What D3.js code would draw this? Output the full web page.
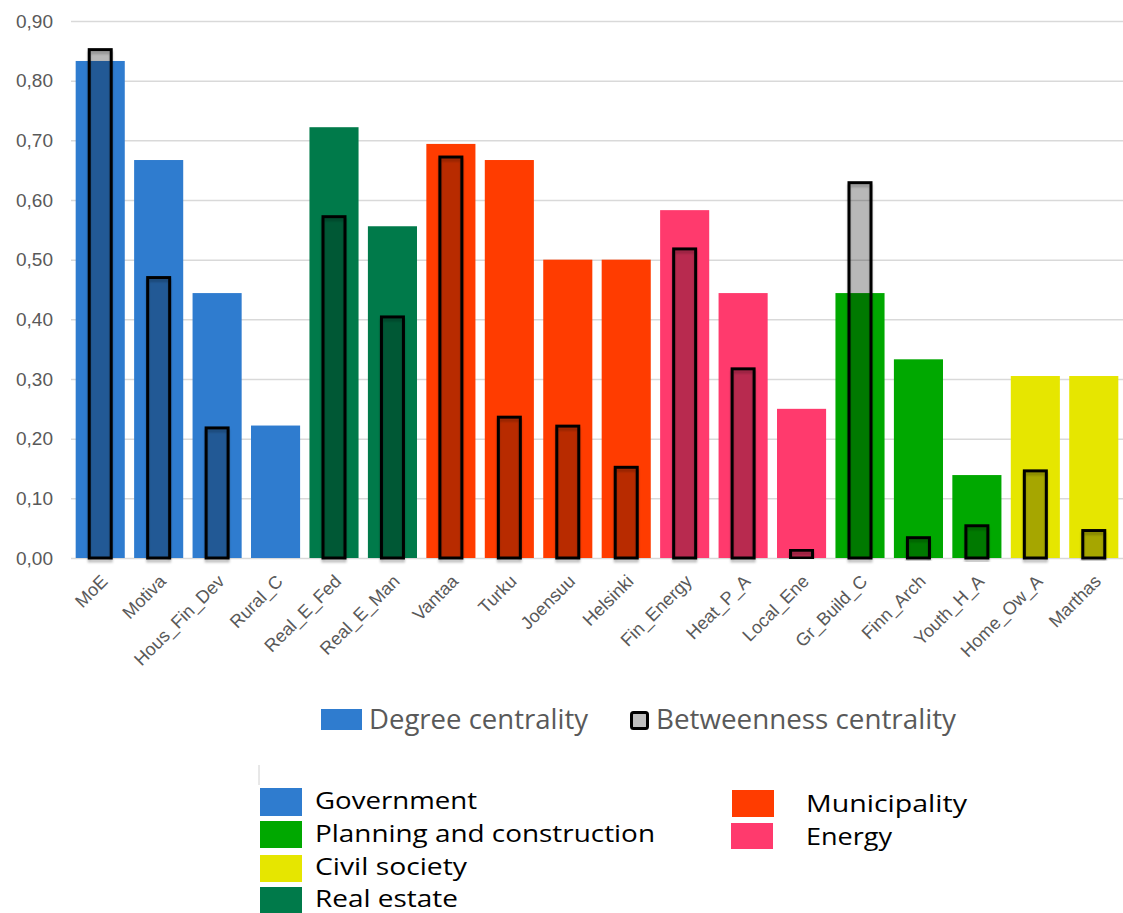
<!DOCTYPE html>
<html>
<head>
<meta charset="utf-8">
<script src="https://cdn.jsdelivr.net/npm/d3@7"></script>
<style>
  body { margin: 0; background: #fff; }
  svg { display: block; }
  .tick-label { font-family: "Liberation Sans", Arial, sans-serif; fill: #595959; }
</style>
</head>
<body>
<div id="chart-area"></div>
<script>

// actors on the x axis, with their sector and the two centrality values
let actors = ["MoE", "Motiva", "Hous_Fin_Dev", "Rural_C", "Real_E_Fed", "Real_E_Man",
	"Vantaa", "Turku", "Joensuu", "Helsinki", "Fin_Energy", "Heat_P_A", "Local_Ene",
	"Gr_Build_C", "Finn_Arch", "Youth_H_A", "Home_Ow_A", "Marthas"];

let actorSector = ["Government", "Government", "Government", "Government", "Real estate", "Real estate",
	"Municipality", "Municipality", "Municipality", "Municipality", "Energy", "Energy", "Energy",
	"Planning and construction", "Planning and construction", "Planning and construction",
	"Civil society", "Civil society"];

let degree = [0.833, 0.667, 0.444, 0.222, 0.722, 0.556,
	0.694, 0.667, 0.500, 0.500, 0.583, 0.444, 0.250,
	0.444, 0.333, 0.139, 0.305, 0.305];

let betweenness = [0.852, 0.470, 0.218, 0, 0.572, 0.404,
	0.672, 0.236, 0.221, 0.152, 0.518, 0.317, 0.013,
	0.629, 0.034, 0.054, 0.146, 0.046];

let sectors = ["Government", "Planning and construction", "Civil society", "Real estate", "Municipality", "Energy"];
let sectorColors = ["#2f7ccf", "#00a800", "#e6e600", "#007a4a", "#ff3c00", "#ff3a6d"];

let yTicks = [0, 0.1, 0.2, 0.3, 0.4, 0.5, 0.6, 0.7, 0.8, 0.9];

let width = 1123, height = 913;
let plot = {left: 71, right: 1123, top: 21, bottom: 558};

let svg = d3.select("#chart-area").append("svg")
	.attr("width", width)
	.attr("height", height);

let defs = svg.append("defs");
defs.append("filter")
	.attr("id", "shadow")
	.attr("x", "-20%").attr("y", "-5%").attr("width", "140%").attr("height", "115%")
	.append("feDropShadow")
	.attr("dx", 0).attr("dy", 3).attr("stdDeviation", 1.2)
	.attr("flood-color", "#000").attr("flood-opacity", 0.25);

let x = d3.scaleBand()
	.domain(actors)
	.range([plot.left, plot.right])
	.paddingInner(0.16)
	.paddingOuter(0.08);

let y = d3.scaleLinear()
	.domain([0, 0.9])
	.range([plot.bottom, plot.top]);

let color = d3.scaleOrdinal().domain(sectors).range(sectorColors);

let commaFormat = v => d3.format(".2f")(v).replace(".", ",");

// gridlines + y labels
let yAxis = d3.axisLeft(y)
	.tickValues(yTicks)
	.tickSize(-(plot.right - plot.left))
	.tickPadding(18)
	.tickFormat(commaFormat);

let yAxisGroup = svg.append("g")
	.attr("transform", "translate(" + plot.left + ",0)")
	.call(yAxis);
yAxisGroup.select(".domain").remove();
yAxisGroup.selectAll(".tick line").attr("stroke", "#d9d9d9").attr("stroke-width", 1.5);
yAxisGroup.selectAll(".tick text")
	.attr("class", "tick-label")
	.attr("font-size", 19)
	.attr("x", -18);

let data = actors.map((a, i) => ({actor: a, sector: actorSector[i], degree: degree[i], betweenness: betweenness[i]}));

// degree centrality bars
svg.append("g").selectAll("rect")
	.data(data)
	.enter().append("rect")
	.attr("x", d => x(d.actor))
	.attr("width", x.bandwidth())
	.attr("y", d => y(d.degree))
	.attr("height", d => y(0) - y(d.degree))
	.attr("fill", d => color(d.sector));

// betweenness centrality bars
let innerW = 22;
svg.append("g").selectAll("rect")
	.data(data.filter(d => d.betweenness > 0))
	.enter().append("rect")
	.attr("x", d => x(d.actor) + x.bandwidth() / 2 - innerW / 2)
	.attr("width", innerW)
	.attr("y", d => y(d.betweenness))
	.attr("height", d => y(0) - y(d.betweenness))
	.attr("fill", "#000")
	.attr("fill-opacity", 0.23)
	.attr("stroke", "#000")
	.attr("stroke-width", 3)
	.attr("filter", "url(#shadow)");

// x labels
svg.append("g").selectAll("text")
	.data(actors)
	.enter().append("text")
	.attr("class", "tick-label")
	.attr("font-size", 18)
	.attr("text-anchor", "end")
	.attr("dy", "0.35em")
	.attr("transform", d => "translate(" + (x(d) + x.bandwidth() / 2 + 4) + "," + (plot.bottom + 20) + ") rotate(-45)")
	.text(d => d);

// series legend
let legend1 = svg.append("g");
legend1.append("rect")
	.attr("x", 321).attr("y", 709).attr("width", 41).attr("height", 21)
	.attr("fill", sectorColors[0]);
legend1.append("text")
	.attr("x", 369).attr("y", 729)
	.attr("font-family", "'Open Sans', sans-serif")
	.attr("font-size", 28).attr("fill", "#595959")
	.attr("textLength", 219).attr("lengthAdjust", "spacingAndGlyphs")
	.text("Degree centrality");
legend1.append("rect")
	.attr("x", 631.5).attr("y", 712.5).attr("width", 16).attr("height", 16)
	.attr("rx", 2)
	.attr("fill", "#bfbfbf").attr("stroke", "#000").attr("stroke-width", 3);
legend1.append("text")
	.attr("x", 656).attr("y", 729)
	.attr("font-family", "'Open Sans', sans-serif")
	.attr("font-size", 28).attr("fill", "#595959")
	.attr("textLength", 300).attr("lengthAdjust", "spacingAndGlyphs")
	.text("Betweenness centrality");

// sector legend
svg.append("line")
	.attr("x1", 259).attr("x2", 259).attr("y1", 765).attr("y2", 785)
	.attr("stroke", "#d0d0d0").attr("stroke-width", 1);

let sectorPos = [
	{x: 260, y: 788, h: 28, tx: 315, ty: 809, len: 162},
	{x: 260, y: 821, h: 27, tx: 315, ty: 842, len: 340},
	{x: 260, y: 855, h: 27, tx: 315, ty: 875, len: 152},
	{x: 260, y: 887, h: 26, tx: 315, ty: 907, len: 143},
	{x: 732, y: 790, h: 27, tx: 806, ty: 812, len: 161},
	{x: 731, y: 823, h: 26, tx: 806, ty: 845, len: 86}
];

let legend2 = svg.append("g").selectAll("g")
	.data(sectors)
	.enter().append("g");
legend2.append("rect")
	.attr("x", (d, i) => sectorPos[i].x)
	.attr("y", (d, i) => sectorPos[i].y)
	.attr("width", 42)
	.attr("height", (d, i) => sectorPos[i].h)
	.attr("fill", d => color(d));
legend2.append("text")
	.attr("x", (d, i) => sectorPos[i].tx)
	.attr("y", (d, i) => sectorPos[i].ty)
	.attr("font-family", "'Open Sans', sans-serif")
	.attr("font-size", 24)
	.attr("fill", "#000")
	.attr("textLength", (d, i) => sectorPos[i].len)
	.attr("lengthAdjust", "spacingAndGlyphs")
	.text(d => d);

</script>
</body>
</html>
